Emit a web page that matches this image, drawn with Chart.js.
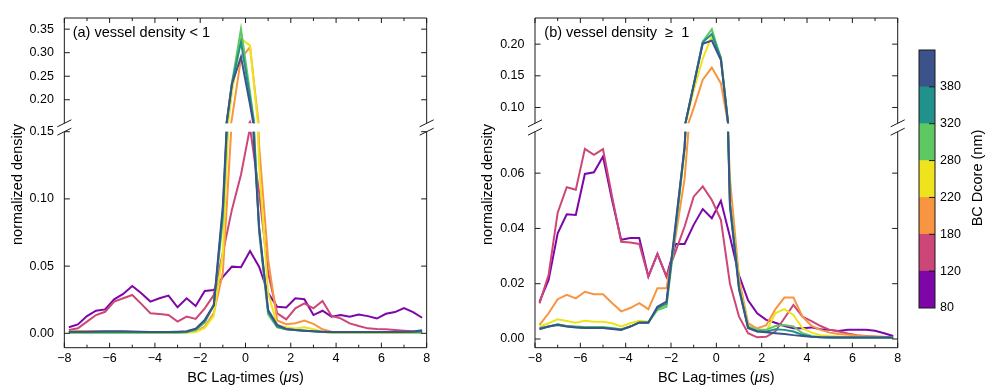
<!DOCTYPE html>
<html><head><meta charset="utf-8">
<script src="https://cdn.jsdelivr.net/npm/chart.js@4.4.1/dist/chart.umd.min.js"></script>
<style>
html,body{margin:0;padding:0;background:#fff;}
#wrap{position:relative;width:985px;height:386px;overflow:hidden;background:#fff;}
#wrap canvas{position:absolute;left:0;top:0;}
</style></head><body>
<div id="wrap">
<canvas id="aUp" width="985" height="386"></canvas>
<canvas id="aLo" width="985" height="386"></canvas>
<canvas id="bUp" width="985" height="386"></canvas>
<canvas id="bLo" width="985" height="386"></canvas>
<canvas id="cbar" width="985" height="386"></canvas>
</div>
<script>
// ---------------- data ----------------
const LAG_TIMES = [-7.8,-7.4,-7.0,-6.6,-6.2,-5.8,-5.4,-5.0,-4.6,-4.2,-3.8,-3.4,-3.0,-2.6,-2.2,-1.8,-1.4,-1.0,-0.6,-0.2,
                    0.2,0.6,1.0,1.4,1.8,2.2,2.6,3.0,3.4,3.8,4.2,4.6,5.0,5.4,5.8,6.2,6.6,7.0,7.4,7.8];
const DCORE_BINS = ['80-120','120-180','180-220','220-280','280-320','320-380','380+'];
const DCORE_TICKS = ['80','120','180','220','280','320','380'];
const COLORS = ['#7e06a8','#cc4778','#f89540','#eee31c','#5ec962','#21918c','#3b528b'];
const X_LABEL_TICKS = [-8,-6,-4,-2,0,2,4,6,8];
const X_ALL_TICKS = [-8,-7,-6,-5,-4,-3,-2,-1,0,1,2,3,4,5,6,7,8];
const A_UP_TICKS = [0.20,0.25,0.30,0.35];
const A_LO_TICKS = [0.00,0.05,0.10,0.15];
const B_UP_TICKS = [0.10,0.15,0.20];
const B_LO_TICKS = [0.00,0.02,0.04,0.06];

// panel (a): vessel density < 1
const A_80  = [0.0045,0.0066,0.0128,0.0168,0.0178,0.0253,0.0293,0.0352,0.0298,0.0236,0.0261,0.0281,0.0194,0.0261,0.0204,0.0315,0.0322,0.0420,0.0496,0.0491,
               0.0612,0.0496,0.0300,0.0198,0.0193,0.0260,0.0253,0.0136,0.0168,0.0124,0.0136,0.0124,0.0140,0.0128,0.0110,0.0145,0.0158,0.0188,0.0158,0.0116];
const A_120 = [0.0025,0.0037,0.0087,0.0136,0.0160,0.0236,0.0261,0.0285,0.0219,0.0149,0.0144,0.0136,0.0087,0.0124,0.0107,0.0186,0.0285,0.0600,0.0920,0.1180,
               0.1530,0.1050,0.0450,0.0149,0.0104,0.0186,0.0223,0.0186,0.0241,0.0129,0.0111,0.0074,0.0054,0.0037,0.0032,0.0030,0.0025,0.0020,0.0015,0.0012];
const A_180 = [0.0012,0.0015,0.0015,0.0015,0.0012,0.0012,0.0012,0.0010,0.0010,0.0008,0.0008,0.0008,0.0008,0.0010,0.0015,0.0050,0.0150,0.0450,0.1600,0.2880,
               0.3120,0.1400,0.0550,0.0095,0.0068,0.0075,0.0095,0.0070,0.0030,0.0012,0.0008,0.0008,0.0008,0.0008,0.0008,0.0008,0.0008,0.0008,0.0008,0.0008];
const A_220 = [0.0005,0.0005,0.0005,0.0005,0.0005,0.0005,0.0005,0.0005,0.0005,0.0005,0.0005,0.0005,0.0005,0.0005,0.0010,0.0040,0.0130,0.0600,0.2150,0.3300,
               0.3150,0.1250,0.0300,0.0060,0.0045,0.0035,0.0045,0.0030,0.0012,0.0005,0.0005,0.0005,0.0005,0.0005,0.0005,0.0005,0.0005,0.0005,0.0005,0.0005];
const A_280 = [0.0005,0.0005,0.0005,0.0005,0.0005,0.0005,0.0005,0.0005,0.0005,0.0005,0.0005,0.0005,0.0005,0.0008,0.0025,0.0080,0.0210,0.0850,0.2350,0.3500,
               0.2150,0.0750,0.0140,0.0045,0.0030,0.0025,0.0020,0.0015,0.0010,0.0007,0.0007,0.0007,0.0007,0.0007,0.0007,0.0007,0.0007,0.0007,0.0007,0.0007];
const A_320 = [0.0010,0.0010,0.0010,0.0010,0.0010,0.0010,0.0010,0.0010,0.0010,0.0010,0.0010,0.0010,0.0010,0.0012,0.0030,0.0090,0.0210,0.0900,0.2350,0.3230,
               0.2050,0.0780,0.0160,0.0050,0.0030,0.0025,0.0020,0.0015,0.0010,0.0010,0.0010,0.0010,0.0010,0.0010,0.0010,0.0010,0.0010,0.0010,0.0010,0.0012];
const A_380 = [0.0012,0.0012,0.0012,0.0013,0.0015,0.0016,0.0015,0.0013,0.0012,0.0010,0.0010,0.0010,0.0012,0.0015,0.0035,0.0100,0.0210,0.0950,0.2330,0.2910,
               0.1900,0.0790,0.0173,0.0062,0.0032,0.0025,0.0020,0.0015,0.0012,0.0010,0.0010,0.0010,0.0010,0.0010,0.0010,0.0010,0.0010,0.0012,0.0014,0.0022];

// panel (b): vessel density >= 1
const B_80  = [0.0135,0.0214,0.0382,0.0451,0.0449,0.0597,0.0603,0.0660,0.0503,0.0359,0.0365,0.0365,0.0226,0.0308,0.0226,0.0344,0.0344,0.0413,0.0470,0.0437,
               0.0500,0.0370,0.0230,0.0140,0.0093,0.0069,0.0059,0.0047,0.0039,0.0039,0.0042,0.0035,0.0033,0.0029,0.0033,0.0033,0.0033,0.0030,0.0021,0.0011];
const B_120 = [0.0129,0.0232,0.0457,0.0549,0.0540,0.0688,0.0666,0.0687,0.0516,0.0352,0.0349,0.0344,0.0226,0.0308,0.0226,0.0316,0.0407,0.0515,0.0552,0.0503,
               0.0431,0.0200,0.0081,0.0021,0.0006,0.0008,0.0027,0.0075,0.0123,0.0081,0.0065,0.0047,0.0033,0.0027,0.0020,0.0014,0.0011,0.0008,0.0006,0.0005];
const B_180 = [0.0051,0.0093,0.0144,0.0160,0.0147,0.0171,0.0162,0.0162,0.0130,0.0100,0.0112,0.0130,0.0108,0.0184,0.0184,0.0370,0.0580,0.0990,0.1440,0.1630,
               0.1380,0.0580,0.0220,0.0057,0.0038,0.0050,0.0107,0.0150,0.0150,0.0081,0.0047,0.0033,0.0023,0.0018,0.0015,0.0012,0.0010,0.0010,0.0008,0.0007];
const B_220 = [0.0045,0.0057,0.0071,0.0065,0.0059,0.0066,0.0062,0.0062,0.0057,0.0045,0.0057,0.0066,0.0062,0.0110,0.0125,0.0400,0.0680,0.1270,0.1770,0.2130,
               0.1800,0.0500,0.0200,0.0045,0.0033,0.0027,0.0093,0.0108,0.0087,0.0039,0.0023,0.0014,0.0011,0.0009,0.0008,0.0007,0.0007,0.0007,0.0006,0.0006];
const B_280 = [0.0040,0.0045,0.0053,0.0047,0.0045,0.0043,0.0043,0.0043,0.0040,0.0035,0.0045,0.0060,0.0060,0.0105,0.0117,0.0390,0.0690,0.1350,0.2040,0.2237,
               0.1770,0.0500,0.0190,0.0045,0.0033,0.0033,0.0047,0.0051,0.0045,0.0021,0.0011,0.0007,0.0006,0.0005,0.0005,0.0005,0.0005,0.0005,0.0005,0.0005];
const B_320 = [0.0038,0.0045,0.0052,0.0046,0.0043,0.0041,0.0041,0.0041,0.0038,0.0034,0.0045,0.0060,0.0060,0.0112,0.0128,0.0405,0.0695,0.1360,0.2030,0.2160,
               0.1780,0.0490,0.0185,0.0040,0.0028,0.0026,0.0035,0.0033,0.0027,0.0015,0.0008,0.0006,0.0005,0.0005,0.0005,0.0005,0.0005,0.0005,0.0005,0.0005];
const B_380 = [0.0035,0.0045,0.0051,0.0045,0.0042,0.0040,0.0040,0.0040,0.0036,0.0033,0.0045,0.0059,0.0059,0.0117,0.0135,0.0415,0.0696,0.1350,0.2005,0.2057,
               0.1750,0.0480,0.0180,0.0040,0.0027,0.0024,0.0021,0.0018,0.0014,0.0011,0.0008,0.0006,0.0005,0.0005,0.0005,0.0005,0.0005,0.0005,0.0005,0.0005];

const PANEL_A = [A_80, A_120, A_180, A_220, A_280, A_320, A_380];
const PANEL_B = [B_80, B_120, B_180, B_220, B_280, B_320, B_380];

// ---------------- layout / style ----------------
const W = 985, H = 386;
const FONT = '"Liberation Sans", Arial, Helvetica, sans-serif';
const TICK_SIZE = 12.5, TITLE_SIZE = 14.5;
const INK = '#1a1a1a';

function fmtX(v){ if (v === 0) return '0'; return v < 0 ? '\u2212' + (-v) : String(v); }

function framePlugin(p){
  return {
    id: 'frame',
    afterDraw(chart){
      const {ctx, chartArea: a} = chart;
      const x = chart.scales.x, y = chart.scales.y;
      ctx.save();
      ctx.strokeStyle = INK; ctx.lineWidth = 1;
      ctx.beginPath();
      ctx.moveTo(a.left, a.top); ctx.lineTo(a.left, a.bottom);
      ctx.moveTo(a.right, a.top); ctx.lineTo(a.right, a.bottom);
      if (p.upper) { ctx.moveTo(a.left, a.top); ctx.lineTo(a.right, a.top); }
      else { ctx.moveTo(a.left, a.bottom); ctx.lineTo(a.right, a.bottom); }
      X_ALL_TICKS.forEach(v => {
        const px = x.getPixelForValue(v);
        const len = (v % 2 === 0) ? 5 : 3;
        if (p.upper) { ctx.moveTo(px, a.top); ctx.lineTo(px, a.top + len); }
        else { ctx.moveTo(px, a.bottom); ctx.lineTo(px, a.bottom - len); }
      });
      p.yTicks.forEach(v => {
        const py = y.getPixelForValue(v);
        ctx.moveTo(a.left, py); ctx.lineTo(a.left + 5.5, py);
        ctx.moveTo(a.right, py); ctx.lineTo(a.right - 5.5, py);
      });
      const by = p.upper ? a.bottom : a.top;
      [a.left, a.right].forEach(bx => { ctx.moveTo(bx - 7, by + 3.5); ctx.lineTo(bx + 7, by - 3.5); });
      ctx.stroke();
      ctx.restore();
    }
  };
}

function makePanel(id, p){
  const datasets = p.series.map((vals, i) => ({
    label: DCORE_BINS[i],
    data: vals.map((v, k) => ({x: LAG_TIMES[k], y: v})),
    borderColor: COLORS[i], backgroundColor: COLORS[i],
    borderWidth: 2, pointRadius: 0, tension: 0, fill: false,
    clip: 0, order: p.series.length - 1 - i
  }));
  return new Chart(document.getElementById(id), {
    type: 'line',
    data: {datasets},
    options: {
      responsive: false, animation: false, devicePixelRatio: 1,
      layout: {padding: {left: p.left - 60, right: W - p.right, top: p.top, bottom: p.upper ? H - p.bottom : 0}},
      plugins: {legend: {display: false}, tooltip: {enabled: false}},
      scales: {
        x: {
          type: 'linear', min: -8, max: 8, display: !p.upper,
          afterFit: s => { s.height = p.upper ? 0 : H - p.bottom; },
          afterBuildTicks: s => { s.ticks = X_LABEL_TICKS.map(v => ({value: v})); },
          grid: {display: false, drawTicks: false}, border: {display: false},
          ticks: {color: '#000', font: {family: FONT, size: TICK_SIZE}, padding: 3, maxRotation: 0, autoSkip: false,
                  callback: v => fmtX(v)}
        },
        y: {
          type: 'linear', min: p.yMin, max: p.yMax,
          afterFit: s => { s.width = 60; },
          afterBuildTicks: s => { s.ticks = p.yTicks.map(v => ({value: v})); },
          grid: {display: false, drawTicks: false}, border: {display: false},
          ticks: {color: '#000', font: {family: FONT, size: TICK_SIZE}, padding: 10.5, autoSkip: false,
                  callback: v => Number(v).toFixed(2)}
        }
      }
    },
    plugins: [framePlugin(p)]
  });
}

const GEO = {aL: 64.33, aR: 426.67, bL: 535, bR: 897.7, upTop: 15.3, upBot: 123.3, loTop: 131.7, loBot: 347.7};

makePanel('aUp', {series: PANEL_A, upper: true, left: GEO.aL, right: GEO.aR, top: GEO.upTop, bottom: GEO.upBot,
                  yMin: 0.15, yMax: 0.3737, yTicks: A_UP_TICKS});
makePanel('aLo', {series: PANEL_A, upper: false, left: GEO.aL, right: GEO.aR, top: GEO.loTop, bottom: GEO.loBot,
                  yMin: -0.0107, yMax: 0.15, yTicks: A_LO_TICKS});
makePanel('bUp', {series: PANEL_B, upper: true, left: GEO.bL, right: GEO.bR, top: GEO.upTop, bottom: GEO.upBot,
                  yMin: 0.075, yMax: 0.2413, yTicks: B_UP_TICKS});
makePanel('bLo', {series: PANEL_B, upper: false, left: GEO.bL, right: GEO.bR, top: GEO.loTop, bottom: GEO.loBot,
                  yMin: -0.00315, yMax: 0.075, yTicks: B_LO_TICKS});

// ---------------- colorbar + texts ----------------
const textPlugin = {
  id: 'texts',
  afterDraw(chart){
    const ctx = chart.ctx;
    const a = chart.chartArea, y = chart.scales.y;
    ctx.save();
    // colorbar outline and ticks
    ctx.strokeStyle = INK; ctx.lineWidth = 1;
    ctx.strokeRect(a.left, a.top, a.right - a.left, a.bottom - a.top);
    ctx.beginPath();
    for (let i = 1; i < DCORE_TICKS.length; i++) {
      const py = y.getPixelForValue(i);
      ctx.moveTo(a.right - 6, py); ctx.lineTo(a.right, py);
    }
    ctx.stroke();
    ctx.fillStyle = '#000';
    ctx.textBaseline = 'middle';
    const f = `${TITLE_SIZE}px ${FONT}`;
    ctx.font = f; ctx.textAlign = 'left';
    ctx.fillText('(a) vessel density < 1', 72.7, 32.5);
    ctx.fillText('(b) vessel density  \u2265  1', 544.3, 32.5);
    function vText(t, cx, cy){ ctx.save(); ctx.translate(cx, cy); ctx.rotate(-Math.PI/2); ctx.textAlign = 'center'; ctx.fillText(t, 0, 0); ctx.restore(); }
    vText('normalized density', 17.7, 184.5);
    vText('normalized density', 488, 184.5);
    vText('BC Dcore (nm)', 977.5, 178);
    function xTitle(cx, cy){
      const parts = [['BC Lag-times (', f], ['\u03bc', `italic ${TITLE_SIZE}px ${FONT}`], ['s)', f]];
      let tw = 0; parts.forEach(pp => { ctx.font = pp[1]; tw += ctx.measureText(pp[0]).width; });
      let x0 = cx - tw / 2; ctx.textAlign = 'left';
      parts.forEach(pp => { ctx.font = pp[1]; ctx.fillText(pp[0], x0, cy); x0 += ctx.measureText(pp[0]).width; });
    }
    xTitle(245.5, 377.5);
    xTitle(716.3, 377.5);
    ctx.restore();
  }
};

new Chart(document.getElementById('cbar'), {
  type: 'bar',
  data: {labels: [''], datasets: DCORE_BINS.map((b, i) => ({label: b, data: [1], backgroundColor: COLORS[i],
        borderWidth: 0, barPercentage: 1, categoryPercentage: 1}))},
  options: {
    responsive: false, animation: false, devicePixelRatio: 1,
    layout: {padding: {left: 919, right: 0, top: 50, bottom: H - 308}},
    plugins: {legend: {display: false}, tooltip: {enabled: false}},
    scales: {
      x: {stacked: true, display: false},
      y: {stacked: true, position: 'right', min: 0, max: 7,
          afterFit: s => { s.width = W - 935; },
          afterBuildTicks: s => { s.ticks = DCORE_TICKS.map((t, i) => ({value: i})); },
          grid: {display: false, drawTicks: false}, border: {display: false},
          ticks: {color: '#000', font: {family: FONT, size: TICK_SIZE}, padding: 5, autoSkip: false,
                  callback: v => DCORE_TICKS[v]}}
    }
  },
  plugins: [textPlugin]
});
</script>
</body></html>
